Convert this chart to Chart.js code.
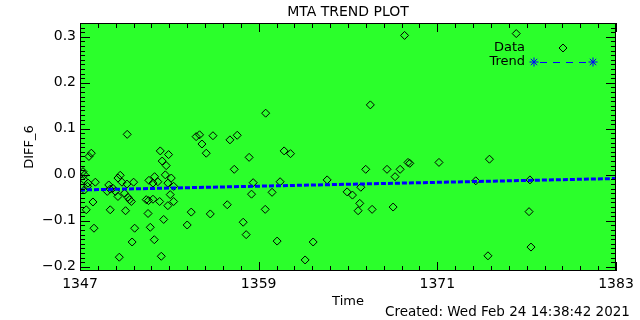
<!DOCTYPE html>
<html>
<head>
<meta charset="utf-8">
<script src="https://cdn.jsdelivr.net/npm/chart.js@4.4.1/dist/chart.umd.min.js"></script>
<style>
  body { margin: 0; background: #fff; }
  #wrap { width: 640px; height: 320px; }
</style>
</head>
<body>
<div id="wrap"><canvas id="graph" width="640" height="320"></canvas></div>
<script>
// Data (time vs DIFF_6)
const times = [
  1347.2, 1347.3, 1347.25, 1347.3, 1347.5, 1347.54, 1347.42, 1347.6, 1347.76, 1347.87,
  1347.94, 1348.03, 1348.83, 1348.93, 1349.03, 1349.03, 1349.2, 1349.37, 1349.55, 1349.55,
  1349.64, 1349.7, 1349.82, 1349.99, 1350.06, 1350.15, 1350.17, 1350.22, 1350.33, 1350.45,
  1350.5, 1350.6, 1350.67, 1351.45, 1351.57, 1351.6, 1351.63, 1351.72, 1351.9, 1351.9,
  1351.99, 1352.01, 1352.23, 1352.35, 1352.39, 1352.46, 1352.52, 1352.62, 1352.73, 1352.79,
  1352.9, 1352.9, 1352.95, 1353.06, 1353.13, 1353.29, 1353.29, 1354.2, 1354.47, 1354.8,
  1355.03, 1355.19, 1355.48, 1355.75, 1355.93, 1357.07, 1357.56, 1356.89, 1357.36, 1357.96,
  1358.16, 1358.36, 1358.52, 1358.63, 1359.44, 1359.47, 1359.9, 1360.24, 1360.44, 1360.71,
  1361.14, 1362.12, 1362.66, 1363.6, 1364.94, 1365.3, 1365.68, 1365.79, 1365.86, 1366.19,
  1366.5, 1366.62, 1367.62, 1368.03, 1368.16, 1368.5, 1368.8, 1369.03, 1369.15, 1371.11,
  1373.58, 1374.4, 1374.5, 1376.3, 1377.22, 1377.16, 1377.29
];
const diffs = [
  0.007, 0.000, -0.010, -0.033, -0.025, -0.018, -0.076, 0.040, 0.047, -0.059,
  -0.116, -0.016, -0.036, -0.022, -0.031, -0.076, -0.029, -0.036, -0.007, -0.047,
  -0.179, -0.001, -0.016, -0.040, -0.078, -0.020, 0.088, -0.049, -0.054, -0.058,
  -0.146, -0.016, -0.116, -0.054, -0.084, -0.056, -0.012, -0.114, -0.018, -0.053,
  -0.141, -0.004, -0.015, -0.058, 0.052, -0.177, 0.030, -0.097, 0.000, 0.020,
  -0.018, -0.067, 0.044, -0.043, -0.007, -0.025, -0.058, -0.109, -0.081, 0.083,
  0.087, 0.067, 0.047, -0.085, 0.085, 0.076, 0.086, -0.065, 0.012, -0.103,
  -0.130, 0.038, -0.042, -0.017, -0.075, 0.134, -0.038, -0.144, -0.015, 0.052,
  0.046, -0.185, -0.146, -0.011, -0.037, -0.044, -0.078, -0.062, -0.027, 0.012,
  0.152, -0.075, 0.012, -0.070, -0.004, 0.012, 0.303, 0.027, 0.025, 0.027,
  -0.013, -0.176, 0.034, 0.307, -0.011, -0.080, -0.157
];
const trendTimes = [1347, 1383];
const trendValues = [-0.033, -0.008];

const xTickValues = [1347, 1359, 1371, 1383];
const yTickValues = [-0.2, -0.1, 0.0, 0.1, 0.2, 0.3];
const xRange = [1347, 1383];
const yRange = [-0.209, 0.330];

const FONT = 'DejaVu Sans';
const PLOT_GREEN = '#2bff2b';

// IDL style frame: green plot area, box with inward ticks, title, legend, stamp
const idlFrame = {
  id: 'idlFrame',
  beforeDatasetsDraw(chart) {
    const {ctx, chartArea: a} = chart;
    ctx.save();
    ctx.fillStyle = PLOT_GREEN;
    ctx.fillRect(a.left, a.top, a.right - a.left, a.bottom - a.top);
    ctx.restore();
  },
  afterDatasetsDraw(chart) {
    const {ctx, chartArea: a} = chart;
    const xs = chart.scales.x, ys = chart.scales.y;
    ctx.save();
    ctx.strokeStyle = '#000';
    ctx.lineWidth = 1;
    ctx.strokeRect(a.left + 0.5, a.top + 0.5, a.right - a.left - 1, a.bottom - a.top - 1);

    ctx.beginPath();
    // x ticks: major every 12, minor every 1.2
    for (let i = 0; i <= 30; i++) {
      const v = xRange[0] + i * 1.2;
      const px = Math.round(xs.getPixelForValue(v)) + 0.5;
      const len = i % 10 === 0 ? 9 : 5;
      ctx.moveTo(px, a.bottom); ctx.lineTo(px, a.bottom - len);
      ctx.moveTo(px, a.top); ctx.lineTo(px, a.top + len);
    }
    // y ticks: major every 0.1, minor every 0.01
    for (let i = -20; i <= 33; i++) {
      const v = i / 100;
      if (v < yRange[0] || v > yRange[1]) continue;
      const py = Math.round(ys.getPixelForValue(v)) + 0.5;
      const len = i % 10 === 0 ? 10 : 5;
      ctx.moveTo(a.left, py); ctx.lineTo(a.left + len, py);
      ctx.moveTo(a.right, py); ctx.lineTo(a.right - len, py);
    }
    ctx.stroke();

    // title
    ctx.fillStyle = '#000';
    ctx.font = '14px "' + FONT + '"';
    ctx.textAlign = 'center';
    ctx.textBaseline = 'middle';
    ctx.fillText('MTA TREND PLOT', (a.left + a.right) / 2, 12);

    // legend
    ctx.textAlign = 'right';
    ctx.font = '13px "' + FONT + '"';
    ctx.fillText('Data', 525, 48);
    ctx.fillText('Trend', 525, 62);

    // diamond for Data
    ctx.beginPath();
    ctx.moveTo(563, 44); ctx.lineTo(567, 48); ctx.lineTo(563, 52); ctx.lineTo(559, 48); ctx.closePath();
    ctx.stroke();

    // Trend: asterisks joined by a dashed line
    ctx.strokeStyle = '#0000ff';
    const star = (cx, cy) => {
      const r = 4.5;
      ctx.beginPath();
      ctx.moveTo(cx - r, cy); ctx.lineTo(cx + r, cy);
      ctx.moveTo(cx, cy - r); ctx.lineTo(cx, cy + r);
      ctx.moveTo(cx - 3.2, cy - 3.2); ctx.lineTo(cx + 3.2, cy + 3.2);
      ctx.moveTo(cx - 3.2, cy + 3.2); ctx.lineTo(cx + 3.2, cy - 3.2);
      ctx.stroke();
    };
    star(534, 62);
    star(593, 62);
    ctx.beginPath();
    ctx.setLineDash([7, 6]);
    ctx.moveTo(540, 62.5); ctx.lineTo(588, 62.5);
    ctx.stroke();
    ctx.setLineDash([]);

    // creation stamp
    ctx.fillStyle = '#000';
    ctx.textAlign = 'left';
    ctx.font = '13.5px "' + FONT + '"';
    ctx.fillText('Created: Wed Feb 24 14:38:42 2021', 385, 312);
    ctx.restore();
  }
};

const ctx = document.querySelector('#graph').getContext('2d');

new Chart(ctx, {
  type: 'scatter',
  data: {
    datasets: [{
      label: 'Data',
      data: times.map((t, i) => ({x: t, y: diffs[i]})),
      pointStyle: 'rectRot',
      pointRadius: 4,
      pointBorderWidth: 1,
      pointBorderColor: '#000',
      pointBackgroundColor: 'rgba(0,0,0,0)',
      order: 2
    }, {
      type: 'line',
      label: 'Trend',
      data: trendTimes.map((t, i) => ({x: t, y: trendValues[i]})),
      borderColor: '#0000ff',
      borderWidth: 3,
      borderDash: [5, 2],
      pointRadius: 0,
      fill: false,
      order: 1
    }]
  },
  options: {
    responsive: false,
    animation: false,
    layout: { padding: { top: 23, right: 24, left: 0, bottom: 0 } },
    plugins: {
      legend: { display: false },
      title: { display: false },
      tooltip: { enabled: false }
    },
    scales: {
      x: {
        type: 'linear',
        min: xRange[0],
        max: xRange[1],
        grid: { display: false, drawTicks: false },
        border: { display: false },
        afterBuildTicks: (scale) => { scale.ticks = xTickValues.map(v => ({value: v})); },
        afterFit: (scale) => { scale.height = 49; },
        ticks: {
          color: '#000',
          font: { family: FONT, size: 14 },
          padding: 5,
          maxRotation: 0,
          autoSkip: false,
          callback: (v) => String(v)
        },
        title: {
          display: true,
          text: 'Time',
          color: '#000',
          font: { family: FONT, size: 13 },
          padding: { top: 0, bottom: 11 }
        }
      },
      y: {
        min: yRange[0],
        max: yRange[1],
        grid: { display: false, drawTicks: false },
        border: { display: false },
        afterBuildTicks: (scale) => { scale.ticks = yTickValues.map(v => ({value: v})); },
        afterFit: (scale) => { scale.width = 80; },
        ticks: {
          color: '#000',
          font: { family: FONT, size: 14 },
          padding: 4,
          callback: (v) => (v < -1e-9 ? '\u2212' : '') + Math.abs(v).toFixed(1)
        },
        title: {
          display: true,
          text: 'DIFF_6',
          color: '#000',
          font: { family: FONT, size: 13 },
          padding: { top: 22, bottom: 0 }
        }
      }
    }
  },
  plugins: [idlFrame]
});
</script>
</body>
</html>
